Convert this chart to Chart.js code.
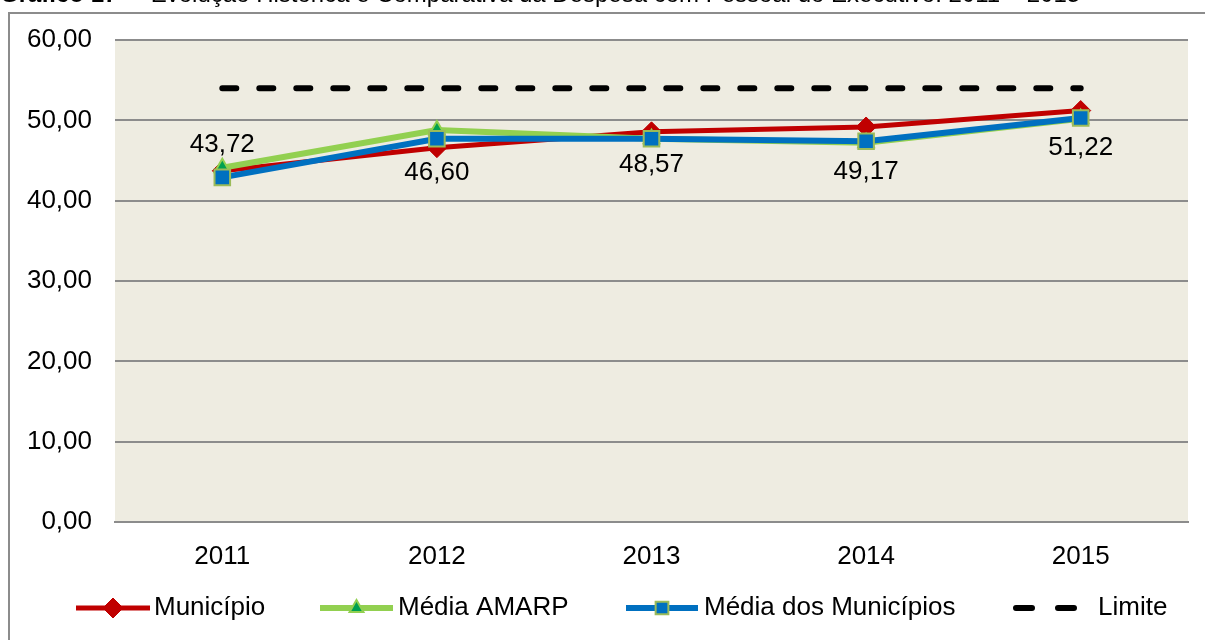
<!DOCTYPE html>
<html>
<head>
<meta charset="utf-8">
<script src="https://cdn.jsdelivr.net/npm/chart.js@4.4.0/dist/chart.umd.min.js"></script>
<style>
  html, body { margin: 0; padding: 0; background: #fff; overflow: hidden; width: 1205px; height: 640px; }
  #frame { position: absolute; left: 8px; top: 12px; width: 1400px; height: 800px; border: 2px solid #8c8c8c; box-sizing: border-box; }
  #title { position: absolute; left: 0px; top: -18px; font-family: "Liberation Sans", Arial, sans-serif; font-size: 24px; line-height: 24px; color: #000; white-space: pre; z-index: 2; }
  #wrap { position: absolute; left: 0; top: 0; width: 1205px; height: 640px; z-index: 1; }
</style>
</head>
<body>
<div id="frame"></div>
<div id="title"><b>Gráfico 17</b> –  Evolução Histórica e Comparativa da Despesa com Pessoal do Executivo: 2011 – 2015</div>
<div id="wrap"><canvas id="c" width="1205" height="640"></canvas></div>
<script>
const categories = ['2011', '2012', '2013', '2014', '2015'];
const municipio = [43.72, 46.60, 48.57, 49.17, 51.22];
const mediaAmarp = [44.1, 48.8, 47.7, 47.2, 50.2];
const mediaMunicipios = [42.9, 47.7, 47.7, 47.4, 50.3];
const limite = [54, 54, 54, 54, 54];
const municipioLabels = ['43,72', '46,60', '48,57', '49,17', '51,22'];
const yTicks = [0, 10, 20, 30, 40, 50, 60];

const FONT = '"Liberation Sans", Arial, sans-serif';
const FS = 26;

const bgPlugin = {
  id: 'plotBg',
  beforeDraw(chart) {
    const a = chart.chartArea, ctx = chart.ctx;
    ctx.save();
    ctx.fillStyle = '#EEECE1';
    ctx.fillRect(a.left, a.top, a.right - a.left, a.bottom - a.top);
    ctx.restore();
  }
};

const labelPlugin = {
  id: 'pointLabels',
  afterDatasetsDraw(chart, args, opts) {
    const ctx = chart.ctx;
    const meta = chart.getDatasetMeta(0);
    ctx.save();
    ctx.font = FS + 'px ' + FONT;
    ctx.fillStyle = '#000';
    ctx.textAlign = 'center';
    ctx.textBaseline = 'middle';
    meta.data.forEach((pt, i) => {
      ctx.fillText(opts.texts[i], pt.x, pt.y + opts.offsets[i]);
    });
    ctx.restore();
  }
};

const legendPlugin = {
  id: 'customLegend',
  afterDraw(chart, args, opts) {
    const ctx = chart.ctx;
    const y = opts.y;
    ctx.save();
    chart.data.datasets.forEach((ds, i) => {
      const it = opts.items[i];
      ctx.beginPath();
      ctx.strokeStyle = ds.borderColor;
      ctx.lineWidth = ds.borderWidth;
      ctx.lineCap = ds.borderCapStyle || 'butt';
      ctx.setLineDash(it.dash || []);
      ctx.moveTo(it.x1, y);
      ctx.lineTo(it.x2, y);
      ctx.stroke();
      ctx.setLineDash([]);
      if (ds.pointStyle && ds.pointRadius > 0) {
        ctx.fillStyle = ds.pointBackgroundColor;
        ctx.strokeStyle = ds.pointBorderColor;
        ctx.lineWidth = ds.pointBorderWidth;
        Chart.helpers.drawPoint(ctx, {
          pointStyle: ds.pointStyle,
          radius: it.r,
          rotation: 0,
          borderWidth: ds.pointBorderWidth
        }, (it.x1 + it.x2) / 2, y);
      }
      ctx.font = FS + 'px ' + FONT;
      ctx.fillStyle = '#000';
      ctx.textAlign = 'left';
      ctx.textBaseline = 'middle';
      ctx.fillText(ds.label, it.tx, y);
    });
    ctx.restore();
  }
};

new Chart(document.getElementById('c'), {
  type: 'line',
  data: {
    labels: categories,
    datasets: [
      {
        label: 'Município', data: municipio, order: 3,
        borderColor: '#C00000', backgroundColor: '#C00000', borderWidth: 5,
        pointStyle: 'rectRot', pointRadius: 10, pointBackgroundColor: '#C00000',
        pointBorderColor: '#C00000', pointBorderWidth: 1
      },
      {
        label: 'Média AMARP', data: mediaAmarp, order: 2,
        borderColor: '#92D050', backgroundColor: '#92D050', borderWidth: 6,
        pointStyle: 'triangle', pointRadius: 9, pointBackgroundColor: '#00A050',
        pointBorderColor: '#92D050', pointBorderWidth: 2
      },
      {
        label: 'Média dos Municípios', data: mediaMunicipios, order: 1,
        borderColor: '#0070C0', backgroundColor: '#0070C0', borderWidth: 6,
        pointStyle: 'rect', pointRadius: 11, pointBackgroundColor: '#0070C0',
        pointBorderColor: '#9BBB59', pointBorderWidth: 2
      },
      {
        label: 'Limite', data: limite, order: 0,
        borderColor: '#000000', backgroundColor: '#000000', borderWidth: 6,
        borderDash: [14, 23], borderCapStyle: 'round',
        pointStyle: false, pointRadius: 0, pointHoverRadius: 0
      }
    ]
  },
  options: {
    responsive: false,
    animation: false,
    events: [],
    layout: { padding: { left: 0, right: 17, top: 40, bottom: 0 } },
    plugins: {
      legend: { display: false },
      tooltip: { enabled: false },
      pointLabels: {
        texts: municipioLabels,
        offsets: [-26, 25, 33, 45, 37]
      },
      customLegend: {
        y: 608,
        items: [
          { x1: 76, x2: 150, tx: 154, r: 10 },
          { x1: 320, x2: 393, tx: 398, r: 8 },
          { x1: 626, x2: 698, tx: 704, r: 9 },
          { x1: 1016, x2: 1084, tx: 1098, dash: [16, 26] }
        ]
      }
    },
    scales: {
      x: {
        offset: true,
        grid: { display: false, drawTicks: false },
        border: { display: true, color: '#8c8c8c', width: 2 },
        ticks: { color: '#000', font: { family: FONT, size: FS }, padding: 19 },
        afterFit(s) { s.height = 118; }
      },
      y: {
        min: 0, max: 60,
        afterBuildTicks(s) { s.ticks = yTicks.map(v => ({ value: v })); },
        grid: { color: '#8c8c8c', lineWidth: 2, drawTicks: false },
        border: { display: false },
        ticks: {
          color: '#000', font: { family: FONT, size: FS }, padding: 23,
          callback: v => v.toFixed(2).replace('.', ',')
        },
        afterFit(s) { s.width = 115; }
      }
    }
  },
  plugins: [bgPlugin, labelPlugin, legendPlugin]
});
</script>
</body>
</html>
